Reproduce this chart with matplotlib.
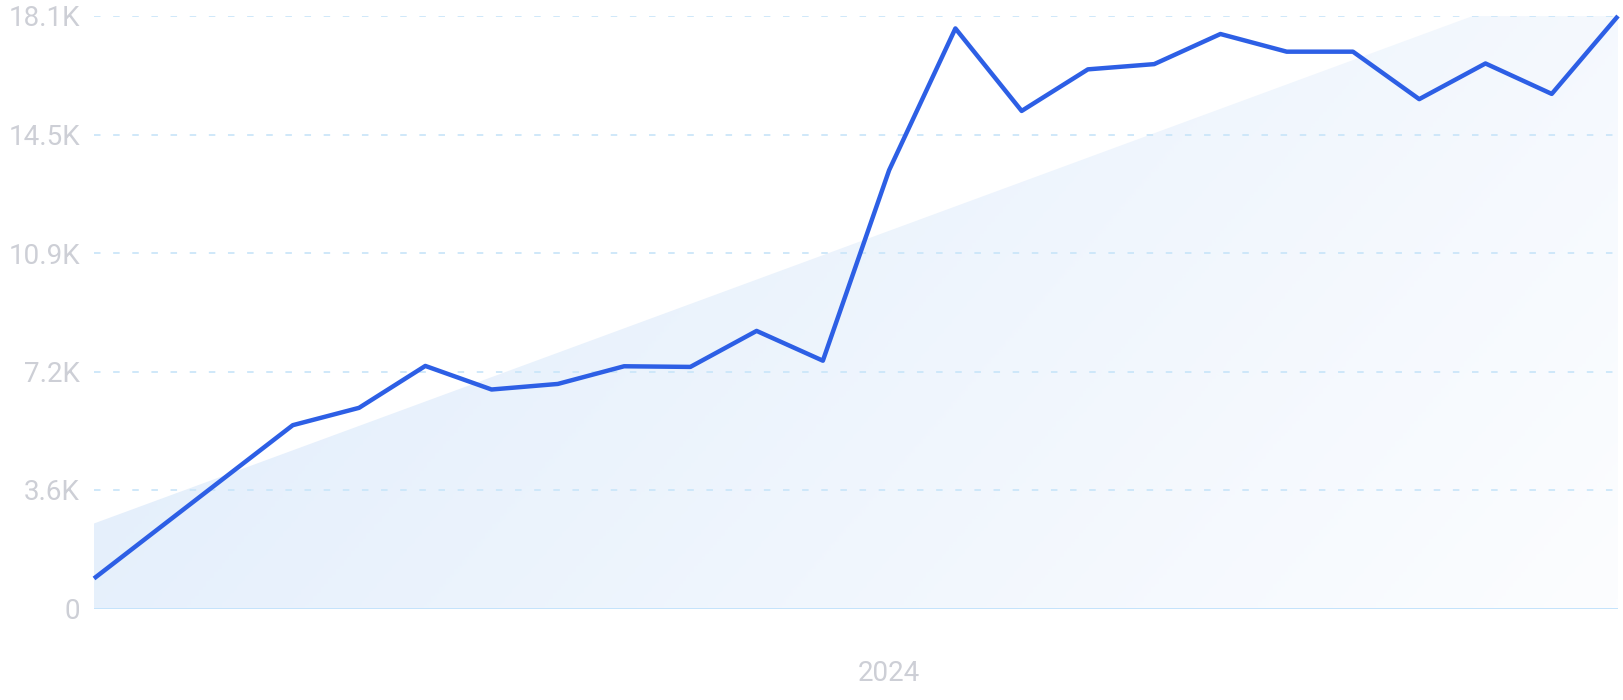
import numpy as np
import matplotlib
matplotlib.use("Agg")
import matplotlib.pyplot as plt
from matplotlib.colors import LinearSegmentedColormap

# monthly values, Jan 2023 .. Dec 2024
months = list(range(24))
values = [917, 2480, 4040, 5600, 6130, 7410, 6690, 6860, 7400, 7380, 8480, 7570,
          13390, 17720, 15200, 16470, 16630, 17550, 17010, 17010, 15560, 16650, 15720, 18100]
y_ticks = [0, 3620, 7240, 10860, 14480, 18100]
y_tick_labels = ["0", "3.6K", "7.2K", "10.9K", "14.5K", "18.1K"]
x_tick_pos = [12]
x_tick_labels = ["2024"]

LINE = "#2d5fe5"
GRID = "#cbe6f9"
AXIS = "#c4e3fb"
LABEL = "#cdcfd6"

plt.rcParams["font.family"] = ["Roboto", "DejaVu Sans"]

fig = plt.figure(figsize=(16.24, 7.0), dpi=100)
ax = fig.add_axes([94 / 1624, 1 - 608.5 / 700, 1524 / 1624, 592.5 / 700])

x = np.array(months, dtype=float)
y = np.array(values, dtype=float)

# linear trend area under the series, filled with a soft gradient
slope, intercept = np.polyfit(x, y, 1)
trend = intercept + slope * x
poly = ax.fill_between(x, 0, trend, facecolor="none", edgecolor="none")

xmin, xmax = x[0], x[-1]
ymin, ymax = 0, y_ticks[-1]
gu, gv = np.meshgrid(np.linspace(0, 1, 400), np.linspace(1, 0, 200))
grad = 0.75 * gu + 0.25 * (1 - gv)
cmap = LinearSegmentedColormap.from_list("fade", ["#dfecfb", "#fcfdff"])
img = ax.imshow(grad, extent=[xmin, xmax, ymin, ymax], aspect="auto",
                cmap=cmap, vmin=0, vmax=1, origin="upper", zorder=1,
                interpolation="bilinear")
img.set_clip_path(poly.get_paths()[0], transform=ax.transData)

ax.plot(x, y, color=LINE, lw=3.2, solid_joinstyle="round", solid_capstyle="butt",
        zorder=4, clip_on=False)

ax.set_xlim(xmin, xmax)
ax.set_ylim(ymin, ymax)

for t in y_ticks[1:]:
    ax.axhline(t, color=GRID, lw=1.3, ls=(0, (3.6, 7.0)), zorder=2)
ax.axhline(0, color=AXIS, lw=1.4, zorder=3)

for s in ax.spines.values():
    s.set_visible(False)

ax.set_yticks(y_ticks)
ax.set_yticklabels(y_tick_labels)
ax.set_xticks(x_tick_pos)
ax.set_xticklabels(x_tick_labels)
ax.tick_params(axis="y", length=0, pad=10, labelsize=20, labelcolor=LABEL)
ax.tick_params(axis="x", length=0, pad=37, labelsize=20, labelcolor=LABEL)

fig.savefig("out.png", dpi=100)
